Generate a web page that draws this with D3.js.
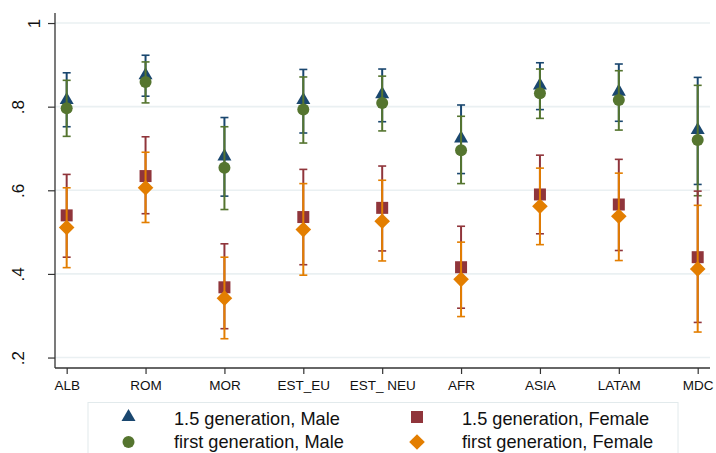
<!DOCTYPE html>
<html>
<head>
<meta charset="utf-8">
<script src="https://cdn.jsdelivr.net/npm/d3@7"></script>
<style>
  html, body { margin: 0; padding: 0; background: #fff; }
  svg { display: block; font-family: "Liberation Sans", Arial, sans-serif; }
</style>
</head>
<body>
<svg id="chart" width="716" height="453"></svg>
<script>
const categories = ["ALB","ROM","MOR","EST_EU","EST_ NEU","AFR","ASIA","LATAM","MDC"];
const yTicks = [0.2, 0.4, 0.6, 0.8, 1];
const yTickLabels = [".2", ".4", ".6", ".8", "1"];

const male15   = [0.816,0.875,0.681,0.816,0.830,0.724,0.851,0.836,0.744];
const male15Lo = [0.752,0.825,0.586,0.737,0.764,0.640,0.793,0.765,0.614];
const male15Hi = [0.881,0.923,0.774,0.889,0.890,0.804,0.905,0.902,0.870];

const male1    = [0.796,0.859,0.654,0.793,0.809,0.696,0.832,0.816,0.720];
const male1Lo  = [0.729,0.809,0.554,0.713,0.742,0.616,0.772,0.744,0.587];
const male1Hi  = [0.863,0.907,0.752,0.871,0.873,0.777,0.890,0.886,0.851];

const fem15    = [0.540,0.634,0.368,0.536,0.558,0.416,0.590,0.566,0.440];
const fem15Lo  = [0.440,0.544,0.269,0.422,0.455,0.318,0.496,0.456,0.284];
const fem15Hi  = [0.638,0.728,0.472,0.650,0.658,0.514,0.684,0.674,0.598];

const fem1     = [0.511,0.606,0.342,0.506,0.526,0.387,0.562,0.538,0.412];
const fem1Lo   = [0.415,0.523,0.245,0.397,0.431,0.298,0.470,0.432,0.261];
const fem1Hi   = [0.606,0.691,0.440,0.616,0.624,0.476,0.653,0.641,0.564];

const seriesNames = ["1.5 generation, Male","first generation, Male","1.5 generation, Female","first generation, Female"];

const series = [
  {name: seriesNames[0], v: male15, lo: male15Lo, hi: male15Hi, color: "#1a476f", shape: "triangle"},
  {name: seriesNames[1], v: male1,  lo: male1Lo,  hi: male1Hi,  color: "#55752f", shape: "circle"},
  {name: seriesNames[2], v: fem15,  lo: fem15Lo,  hi: fem15Hi,  color: "#90353b", shape: "square"},
  {name: seriesNames[3], v: fem1,   lo: fem1Lo,   hi: fem1Hi,   color: "#e37e00", shape: "diamond"}
];

const svg = d3.select("#chart");

const x = d3.scaleLinear().domain([0.852, 9.156]).range([55, 710]);
const y = d3.scaleLinear().domain([0.175, 1.024]).range([368, 13]);

function shapePath(shape) {
  const p = d3.path();
  if (shape === "triangle") {
    const s = 14, h = s * Math.sqrt(3) / 2;
    p.moveTo(0, -2 * h / 3); p.lineTo(s / 2, h / 3); p.lineTo(-s / 2, h / 3); p.closePath();
  } else if (shape === "circle") {
    p.arc(0, 0, 6, 0, 2 * Math.PI);
  } else if (shape === "square") {
    p.rect(-6, -6, 12, 12);
  } else {
    const r = 7.8;
    p.moveTo(0, -r); p.lineTo(r, 0); p.lineTo(0, r); p.lineTo(-r, 0); p.closePath();
  }
  return p.toString();
}

// gridlines
svg.append("g").selectAll("line").data(yTicks).join("line")
  .attr("x1", 55).attr("x2", 710)
  .attr("y1", d => y(d)).attr("y2", d => y(d))
  .attr("stroke", "#eaf0f2").attr("stroke-width", 1.6);

// y axis
const yAxis = svg.append("g").attr("transform", "translate(55,0)")
  .call(d3.axisLeft(y).tickValues(yTicks).tickSize(7).tickFormat((d, i) => yTickLabels[i]));
yAxis.select(".domain").attr("d", "M0,13V368").attr("stroke", "#333").attr("stroke-width", 1.3);
yAxis.selectAll(".tick line").attr("stroke", "#333").attr("stroke-width", 1.2);
yAxis.selectAll(".tick text")
  .attr("transform", "rotate(-90)")
  .attr("x", 0)
  .attr("y", d => d === 1 ? -15 : -31.5)
  .attr("dy", 0)
  .attr("text-anchor", "middle")
  .attr("font-size", 17).attr("fill", "#111");

// x axis
const xAxis = svg.append("g").attr("transform", "translate(0,368)")
  .call(d3.axisBottom(x).tickValues(d3.range(1, categories.length + 1)).tickSize(6)
    .tickFormat(d => categories[d - 1]));
xAxis.select(".domain").attr("d", "M55,0H710").attr("stroke", "#333").attr("stroke-width", 1.3);
xAxis.selectAll(".tick line").attr("stroke", "#333").attr("stroke-width", 1.2);
xAxis.selectAll(".tick text").attr("y", 12).attr("dy", "0.71em")
  .attr("font-size", 13.5).attr("fill", "#111");

// series
series.forEach(s => {
  const g = svg.append("g");
  const idx = d3.range(categories.length);
  g.selectAll("line.v").data(idx).join("line").attr("class", "v")
    .attr("x1", i => x(i + 1)).attr("x2", i => x(i + 1))
    .attr("y1", i => y(s.lo[i])).attr("y2", i => y(s.hi[i]))
    .attr("stroke", s.color).attr("stroke-width", 2);
  g.selectAll("line.lo").data(idx).join("line").attr("class", "lo")
    .attr("x1", i => x(i + 1) - 4).attr("x2", i => x(i + 1) + 4)
    .attr("y1", i => y(s.lo[i])).attr("y2", i => y(s.lo[i]))
    .attr("stroke", s.color).attr("stroke-width", 1.6);
  g.selectAll("line.hi").data(idx).join("line").attr("class", "hi")
    .attr("x1", i => x(i + 1) - 4).attr("x2", i => x(i + 1) + 4)
    .attr("y1", i => y(s.hi[i])).attr("y2", i => y(s.hi[i]))
    .attr("stroke", s.color).attr("stroke-width", 1.6);
  g.selectAll("path").data(idx).join("path")
    .attr("d", shapePath(s.shape))
    .attr("transform", i => `translate(${x(i + 1)},${y(s.v[i])})`)
    .attr("fill", s.color);
});

// legend
const lg = svg.append("g");
lg.append("rect").attr("x", 88).attr("y", 402.5).attr("width", 590).attr("height", 70)
  .attr("fill", "#fff").attr("stroke", "#e2eaec").attr("stroke-width", 1);
const legendPos = [
  {mx: 128.5, my: 417, tx: 174, ty: 424.5},
  {mx: 128.5, my: 442, tx: 174, ty: 448},
  {mx: 417, my: 417, tx: 462, ty: 424.5},
  {mx: 417, my: 442, tx: 462, ty: 448}
];
series.forEach((s, i) => {
  const p = legendPos[i];
  lg.append("path").attr("d", shapePath(s.shape))
    .attr("transform", `translate(${p.mx},${p.my})`).attr("fill", s.color);
  lg.append("text").attr("x", p.tx).attr("y", p.ty).attr("font-size", 18.2)
    .attr("fill", "#111").text(s.name);
});
</script>
</body>
</html>
